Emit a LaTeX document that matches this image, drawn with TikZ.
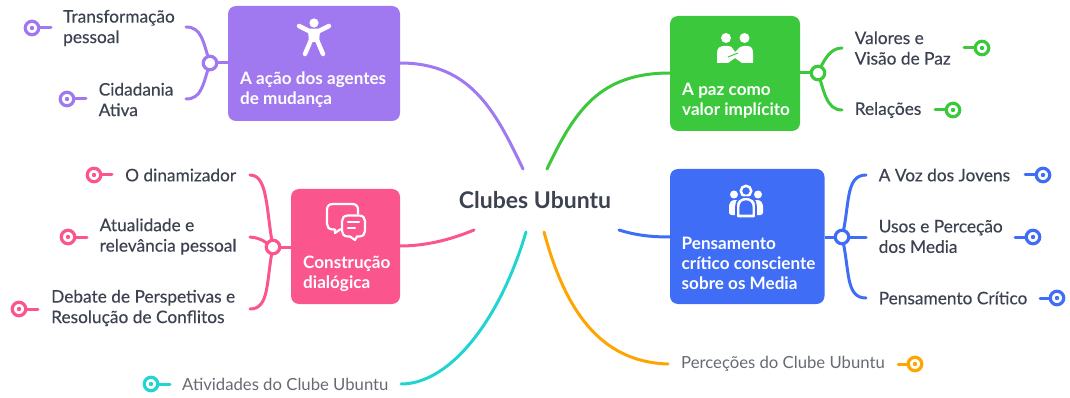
\documentclass[tikz,border=0pt]{standalone}
\usepackage{fontspec}
\setmainfont{Lato}[FakeBold=0.35]
\newfontfamily\boxfont{Lato Bold}
\newfontfamily\plainfont{Lato}
\definecolor{cpur}{HTML}{A078F0}
\definecolor{cgre}{HTML}{3CC83C}
\definecolor{cpin}{HTML}{FA558C}
\definecolor{cblu}{HTML}{3F6DF5}
\definecolor{ccya}{HTML}{22D3D3}
\definecolor{cora}{HTML}{FFA500}
\definecolor{ctxt}{HTML}{3C4250}
\definecolor{clig}{HTML}{666A72}
\tikzset{
 x=1pt,y=-1pt,
 lnk/.style={line width=3pt,line cap=round,draw=#1},
 hub/.style={circle,minimum size=13.5pt,inner sep=0pt,line width=3.2pt,draw=#1,fill=white},
 leafmark/.style={circle,minimum size=13.5pt,inner sep=0pt,line width=3.2pt,draw=#1,fill=white},
 leaftext/.style={anchor=west,align=left,inner sep=0pt,text=ctxt,font=\fontsize{17.3}{20.5}\selectfont},
 lighttext/.style={anchor=west,align=left,inner sep=0pt,text=clig,font=\plainfont\fontsize{16.7}{20.5}\selectfont},
 boxtext/.style={anchor=west,align=left,inner sep=0pt,text=white,font=\boxfont\fontsize{17.1}{20}\selectfont},
}
\begin{document}
\begin{tikzpicture}
\useasboundingbox (0,0) rectangle (1070,398);
% centre
\node[inner sep=0pt,text=ctxt,font=\boxfont\fontsize{23}{24}\selectfont] (root) at (535,200) {Clubes Ubuntu};
\coordinate (rpur) at (523,169);
\coordinate (rgre) at (547,169);
\coordinate (rpin) at (474,230);
\coordinate (rblu) at (619,230);
\coordinate (rcya) at (526,232);
\coordinate (rora) at (544,232);
% main links (under the boxes)
\coordinate (bpurL) at (228,63); \coordinate (bpurR) at (400,63);
\coordinate (bgreL) at (670,73); \coordinate (bgreR) at (800,73);
\coordinate (bpinL) at (291,247); \coordinate (bpinR) at (400,246);
\coordinate (bbluL) at (670,237); \coordinate (bbluR) at (824.5,237);
\draw[lnk=cpur] (bpurR) .. controls (470,63) and (495,110) .. (rpur);
\draw[lnk=cgre] (bgreL) .. controls (600,73) and (575,110) .. (rgre);
\draw[lnk=cpin] (bpinR) .. controls (425,246) and (450,240) .. (rpin);
\draw[lnk=cblu] (bbluL) .. controls (650,237) and (635,235) .. (rblu);
\coordinate (ecya) at (401,384);
\coordinate (eora) at (668,364);
\draw[lnk=ccya] (ecya) .. controls (450,384) and (500,320) .. (rcya);
\draw[lnk=cora] (eora) .. controls (600,362) and (565,310) .. (rora);
% boxes
\fill[cpur,rounded corners=8pt] (228,6) rectangle (400,121);
\fill[cgre,rounded corners=8pt] (670,16) rectangle (800,131);
\fill[cpin,rounded corners=8pt] (291,189) rectangle (400,304);
\fill[cblu,rounded corners=8pt] (670,169) rectangle (824.5,304);
% hub ends
\coordinate (p1) at (186,27); \coordinate (p2) at (186,99);
\coordinate (k1) at (250,175); \coordinate (k2) at (250,237); \coordinate (k3) at (250,309);
\coordinate (g1) at (842,48); \coordinate (g2) at (842,110);
\coordinate (b1) at (866,175); \coordinate (b2) at (866,237); \coordinate (b3) at (866,298);
\coordinate (hp) at (210,63); \coordinate (hk) at (273,247); \coordinate (hg) at (818,73); \coordinate (hb) at (842,237);
\draw[lnk=cpur] (hp) .. controls (203,42) and (202,27) .. (p1);
\draw[lnk=cpur] (hp) .. controls (203,84) and (202,99) .. (p2);
\draw[lnk=cpur,line cap=butt] (hp) -- (bpurL);
\draw[lnk=cpin] (hk) .. controls (266,210) and (268,175) .. (k1);
\draw[lnk=cpin] (hk) .. controls (266,243) and (262,238) .. (k2);
\draw[lnk=cpin] (hk) .. controls (266,280) and (270,309) .. (k3);
\draw[lnk=cpin,line cap=butt] (hk) -- (bpinL);
\draw[lnk=cgre] (hg) .. controls (824,60) and (830,48) .. (g1);
\draw[lnk=cgre] (hg) .. controls (824,90) and (826,110) .. (g2);
\draw[lnk=cgre,line cap=butt] (hg) -- (bgreR);
\draw[lnk=cblu] (hb) .. controls (850,205) and (845,175) .. (b1);
\draw[lnk=cblu] (hb) -- (b2);
\draw[lnk=cblu] (hb) .. controls (850,270) and (845,298) .. (b3);
\draw[lnk=cblu,line cap=butt] (hb) -- (bbluR);
\node[hub=cpur] (hubp) at (hp) {};
\node[hub=cpin] (hubk) at (hk) {};
\node[hub=cgre] (hubg) at (hg) {};
\node[hub=cblu] (hubb) at (hb) {};
% box labels
\node[boxtext] (lp) at (240,90) {A ação dos agentes\\de mudança};
\node[boxtext] (lg) at (682,101) {A paz como\\valor implícito};
\node[boxtext] (lk) at (303,274) {Construção\\dialógica};
\node[boxtext] (lb) at (681.5,263) {Pensamento\\crítico consciente\\sobre os Media};
% leaf labels
\node[leaftext] (t1) at (63,28) {Transformação\\pessoal};
\node[leaftext] (t2) at (98.5,99.5) {Cidadania\\Ativa};
\node[leaftext] (t3) at (125,175) {O dinamizador};
\node[leaftext] (t4) at (99.5,236.5) {Atualidade e\\relevância pessoal};
\node[leaftext] (t5) at (51,308) {Debate de Perspetivas e\\Resolução de Conflitos};
\node[lighttext] (t6) at (182,384) {Atividades do Clube Ubuntu};
\node[leaftext] (t7) at (854.5,48) {Valores e\\Visão de Paz};
\node[leaftext] (t8) at (854.5,110) {Relações};
\node[leaftext] (t9) at (878.5,175) {A Voz dos Jovens};
\node[leaftext] (t10) at (878.5,236.5) {Usos e Perceção\\dos Media};
\node[leaftext] (t11) at (878.5,298) {Pensamento Crítico};
\node[lighttext] (t12) at (681,363.5) {Perceções do Clube Ubuntu};
% leaf marks
\def\mk#1#2#3#4{%
 \coordinate (#2e) at (#4);
 \node[leafmark=#1] (#2) at (#3) {};
 \draw[lnk=#1] (#2) -- (#2e);
 \fill[#1] (#2) circle[radius=2.2pt];}
\mk{cpur}{m1}{32,28}{51,28}
\mk{cpur}{m2}{67,99}{86,99}
\mk{cpin}{m3}{94,175}{112,175}
\mk{cpin}{m4}{68,237}{87,237}
\mk{cpin}{m5}{19,309}{38,309}
\mk{ccya}{m6}{151,384}{170,384}
\mk{cgre}{m7}{982,48}{964,48}
\mk{cgre}{m8}{953,110}{935,110}
\mk{cblu}{m9}{1043,175}{1025,175}
\mk{cblu}{m10}{1033,237}{1015,237}
\mk{cblu}{m11}{1057,298}{1040,298}
\mk{cora}{m12}{915,364}{898,364}
% icon: person
\fill[white] (314,23) circle[radius=4.6];
\draw[white,line width=4.5pt,line cap=round,line join=round] (299,26) -- (309,31) -- (319,31) -- (329,26);
\fill[white,rounded corners=1pt] (308,31) -- (320,31) -- (319,42) -- (309,42) -- cycle;
\draw[white,line width=4.5pt,line cap=round] (311,40) -- (305,54) (317,40) -- (323,54);
% icon: handshake
\fill[white] (726,38) circle[radius=5] (744.5,38) circle[radius=5];
\fill[white] (717,63) -- (717,53) .. controls (717,48) and (720,46) .. (724,46) -- (728,46)
  .. controls (731,46) and (732,47) .. (733,49) -- (735,52) -- (738,49)
  .. controls (740,47) and (741,46) .. (744,46) -- (747,46)
  .. controls (751,46) and (753,48) .. (753,53) -- (753,63) -- (742,63) -- (735,58) -- (728,63) -- cycle;
\draw[cgre,line width=1pt] (728,57) -- (738,53);
% icon: speech bubbles
\draw[white,line width=2.2pt,line join=round] (333,204) -- (352,204)
  .. controls (356,204) and (358,206) .. (358,210) -- (358,214)
  (342,229.5) -- (340,229.5) -- (335,233) -- (335,229.5) -- (333,229.5)
  .. controls (329,229.5) and (327,227) .. (327,224) -- (327,210)
  .. controls (327,206) and (329,204) .. (333,204);
\draw[white,line width=2.2pt,line join=round] (348,215.5) -- (359,215.5)
  .. controls (363,215.5) and (365,218) .. (365,221) -- (365,231)
  .. controls (365,234) and (363,236.5) .. (359,236.5) -- (357,236.5) -- (355,240) -- (350,236.5) -- (348,236.5)
  .. controls (344,236.5) and (342,234) .. (342,231) -- (342,221)
  .. controls (342,218) and (344,215.5) .. (348,215.5) -- cycle;
\draw[white,line width=2.2pt,line cap=round] (348,222) -- (359,222) (348,228) -- (355,228);
% icon: group
\fill[white] (734,194.5) circle[radius=4] (758,194.5) circle[radius=4];
\fill[white,rounded corners=2.5pt] (729,215) -- (729,204) -- (732,200) -- (760,200) -- (763,204) -- (763,215) -- cycle;
\draw[white,line width=2.5pt] (746,191) circle[radius=5.2];
\draw[white,fill=cblu,line width=2.6pt,line join=round] (738,216) -- (738,208)
  .. controls (738,202) and (741,199) .. (746,199)
  .. controls (751,199) and (754,202) .. (754,208) -- (754,216) -- cycle;
\draw[cblu,line width=1.6pt] (736,217) -- (736,206) .. controls (736,200) and (740,197) .. (746,197)
  .. controls (752,197) and (756,200) .. (756,206) -- (756,217);
\end{tikzpicture}
\end{document}
